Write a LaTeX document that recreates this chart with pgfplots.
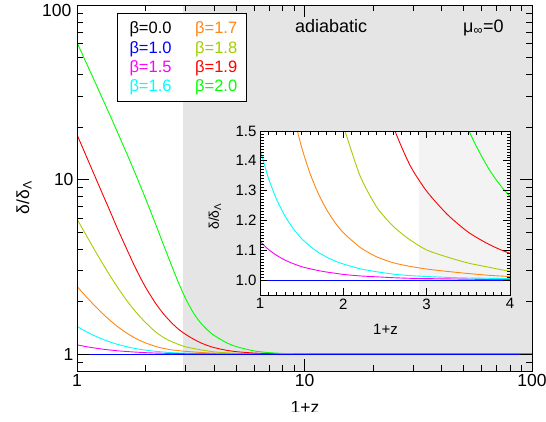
\documentclass[border=0pt]{standalone}
\usepackage{fontspec}
\setmainfont{Liberation Sans}
\usepackage{pgfplots}
\usepackage{pgfplotstable}
\pgfplotsset{compat=1.18}

\definecolor{cBlue}{RGB}{0,0,255}
\definecolor{cMag}{RGB}{255,0,255}
\definecolor{cCyan}{RGB}{0,255,255}
\definecolor{cOrange}{RGB}{255,136,20}
\definecolor{cLime}{RGB}{165,205,0}
\definecolor{cRed}{RGB}{255,0,0}
\definecolor{cGreen}{RGB}{0,255,0}
\definecolor{cShade}{RGB}{229,229,229}
\definecolor{cShadeLt}{RGB}{243,243,243}

% delta/delta_Lambda for each beta (beta=0 and 1 stay at 1)
\pgfplotstableread{
x     b00  b10  b15   b16   b17   b18   b19    b20
1.0   1 1 1.130 1.440 2.440 5.940 18.10 61.0
1.1   1 1 1.103 1.343 2.126 4.773 13.55 46.4
1.2   1 1 1.083 1.270 1.885 3.915 10.41 36.2
1.3   1 1 1.067 1.215 1.700 3.280 8.17  28.7
1.4   1 1 1.055 1.172 1.557 2.801 6.55  23.2
1.5   1 1 1.045 1.139 1.445 2.436 5.30  18.9
1.6   1 1 1.038 1.114 1.358 2.155 4.40  15.6
1.7   1 1 1.032 1.093 1.290 1.936 3.70  13.0
1.8   1 1 1.027 1.077 1.236 1.764 3.15  10.9
1.9   1 1 1.023 1.064 1.193 1.628 2.74  9.19
2.0   1 1 1.019 1.054 1.159 1.519 2.42  7.80
2.2   1 1 1.014 1.038 1.110 1.350 1.98  5.69
2.4   1 1 1.011 1.028 1.078 1.245 1.70  4.23
2.6   1 1 1.008 1.020 1.058 1.180 1.515 3.237
2.8   1 1 1.006 1.015 1.046 1.135 1.385 2.548
3.0   1 1 1.005 1.012 1.037 1.101 1.298 2.083
3.25  1 1 1.004 1.009 1.029 1.077 1.2195 1.7205
3.5   1 1 1.003 1.007 1.022 1.057 1.1605 1.506
3.75  1 1 1.002 1.006 1.016 1.043 1.1195 1.371
4.0   1 1 1.002 1.005 1.012 1.030 1.090 1.281
4.5   1 1 1.001 1.003 1.007 1.018 1.054 1.169
5     1 1 1.001 1.002 1.005 1.011 1.033 1.105
6     1 1 1.000 1.001 1.002 1.004 1.014 1.043
7     1 1 1.000 1.000 1.001 1.002 1.007 1.019
8     1 1 1.000 1.000 1.000 1.001 1.004 1.009
10    1 1 1.000 1.000 1.000 1.000 1.001 1.0025
13    1 1 1 1 1 1 1 1
20    1 1 1 1 1 1 1 1
50    1 1 1 1 1 1 1 1
100   1 1 1 1 1 1 1 1
}\growth

\pgfplotsset{
  curve/.style={line width=0.9pt, smooth, tension=0.4},
}

\begin{document}
\begin{tikzpicture}[x=1pt,y=1pt]
\useasboundingbox (0,0) rectangle (546,421);

% main panel
\begin{axis}[
    at={(77pt,50pt)}, anchor=south west,
    scale only axis, width=455pt, height=366pt,
    xmode=log, ymode=log,
    xmin=1, xmax=100, ymin=0.8, ymax=100,
    xtick={1,10,100}, xticklabels={1,10,100},
    ytick={1,10,100}, yticklabels={1,10,{}},
    minor xtick={2,3,4,5,6,7,8,9,20,30,40,50,60,70,80,90},
    minor ytick={0.9,2,3,4,5,6,7,8,9,20,30,40,50,60,70,80,90},
    tick align=inside, tick pos=both,
    major tick length=12.5pt, minor tick length=6.5pt,
    every tick/.style={black, line width=0.8pt},
    axis line style={line width=0.9pt},
    ticklabel style={font=\fontsize{17.5}{20}\selectfont},
    axis on top,
]
\fill[cShade] (axis cs:2.92,0.8) rectangle (axis cs:100,100);
\addplot[curve, black]   table[x=x, y=b00] {\growth};
\addplot[curve, cLime]   table[x=x, y=b18] {\growth};
\addplot[curve, cOrange] table[x=x, y=b17] {\growth};
\addplot[curve, cCyan]   table[x=x, y=b16] {\growth};
\addplot[curve, cMag]    table[x=x, y=b15] {\growth};
\addplot[curve, cRed]    table[x=x, y=b19] {\growth};
\addplot[curve, cGreen]  table[x=x, y=b20] {\growth};
\addplot[curve, cBlue]   table[x=x, y=b10] {\growth};
\end{axis}
\node[anchor=east, inner sep=0pt, font=\fontsize{17.5}{20}\selectfont] at (71.5,410.5) {100};

% inset
\begin{axis}[
    at={(260pt,126pt)}, anchor=south west,
    scale only axis, width=250pt, height=164pt,
    xmin=1, xmax=4, ymin=0.95, ymax=1.5,
    restrict y to domain=0:20,
    xtick={1,2,3,4}, xticklabels={1,2,3,4},
    ytick={1.0,1.1,1.2,1.3,1.4,1.5},
    yticklabels={1.0,1.1,1.2,1.3,1.4,1.5},
    minor tick num=9,
    tick align=inside, tick pos=both,
    major tick length=7pt, minor tick length=3.5pt,
    every tick/.style={black, line width=0.7pt},
    axis line style={line width=0.9pt},
    ticklabel style={font=\fontsize{15}{17}\selectfont},
    axis background/.style={fill=white},
    axis on top,
]
\fill[cShadeLt] (axis cs:2.91,0.95) rectangle (axis cs:4,1.5);
\addplot[curve, black]   table[x=x, y=b00] {\growth};
\addplot[curve, cLime]   table[x=x, y=b18] {\growth};
\addplot[curve, cOrange] table[x=x, y=b17] {\growth};
\addplot[curve, cCyan]   table[x=x, y=b16] {\growth};
\addplot[curve, cMag]    table[x=x, y=b15] {\growth};
\addplot[curve, cRed]    table[x=x, y=b19] {\growth};
\addplot[curve, cGreen]  table[x=x, y=b20] {\growth};
\addplot[curve, cBlue]   table[x=x, y=b10] {\growth};
\end{axis}

% labels
\node[rotate=90, font=\fontsize{17.5}{20}\selectfont] at (24,223.5) {δ/δ\textsubscript{Λ}};
\node[rotate=90, font=\fontsize{14}{16}\selectfont] at (215,204.5) {δ/δ\textsubscript{Λ}};
\node[font=\fontsize{15}{17}\selectfont] at (385.5,91.5) {1+z};
\begin{scope}
\clip (0,9.3) rectangle (546,421);
\node[anchor=north, font=\fontsize{17.5}{20}\selectfont, inner sep=0pt] at (305,20) {1+z};
\end{scope}

\node[anchor=base west, inner sep=0pt, font=\fontsize{18}{20}\selectfont] at (295,388.7) {adiabatic};
\node[anchor=base west, inner sep=0pt, font=\fontsize{18}{20}\selectfont] at (463,388.7) {μ\textsubscript{∞}=0};

% legend
\draw[line width=0.8pt, fill=white] (117,320) rectangle (246,408);
\begin{scope}[every node/.style={anchor=base west, inner sep=0pt, font=\fontsize{16.5}{19}\selectfont}]
\node[black]   at (129.3,387.7) {β=0.0};
\node[cBlue]   at (129.3,367.7) {β=1.0};
\node[cMag]    at (129.3,348.3) {β=1.5};
\node[cCyan]   at (129.3,329.3) {β=1.6};
\node[cOrange] at (195,387.7) {β=1.7};
\node[cLime]   at (195,367.7) {β=1.8};
\node[cRed]    at (195,348.3) {β=1.9};
\node[cGreen]  at (195,329.3) {β=2.0};
\end{scope}
\end{tikzpicture}
\end{document}
